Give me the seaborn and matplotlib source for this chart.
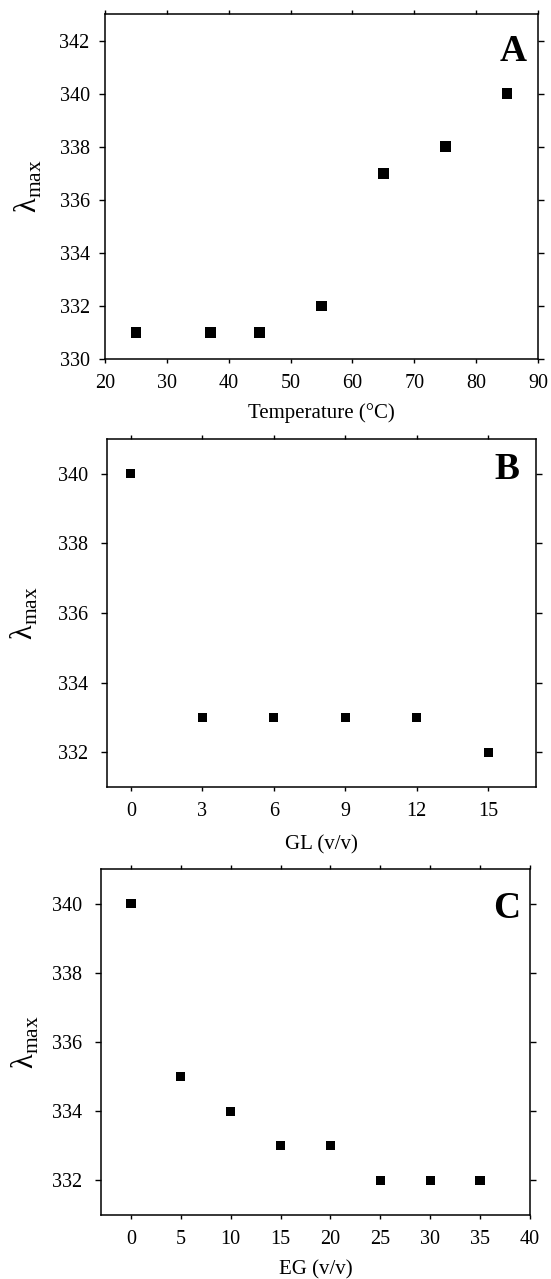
import matplotlib
matplotlib.use("Agg")
import matplotlib.pyplot as plt
import seaborn as sns
import pandas as pd

# Data
temp_c = [25, 37, 45, 55, 65, 75, 85]
lam_temp = [331, 331, 331, 332, 337, 338, 340]
gl_vv = [0, 3, 6, 9, 12, 15]
lam_gl = [340, 333, 333, 333, 333, 332]
eg_vv = [0, 5, 10, 15, 20, 25, 30, 35]
lam_eg = [340, 335, 334, 333, 333, 332, 332, 332]

sns.set_style("ticks")
plt.rcParams['font.family'] = ['Liberation Serif', 'DejaVu Serif']
plt.rcParams['mathtext.fontset'] = 'custom'
plt.rcParams['mathtext.rm'] = 'Liberation Serif'
plt.rcParams['text.color'] = 'black'
plt.rcParams['axes.labelcolor'] = 'black'
plt.rcParams['xtick.color'] = 'black'
plt.rcParams['ytick.color'] = 'black'

W, H = 551, 1279
fig = plt.figure(figsize=(W / 100, H / 100), dpi=100)


def make_axes(l, r, t, b):
    return fig.add_axes([l / W, 1 - b / H, (r - l) / W, (b - t) / H])


panels = [
    dict(box=(105, 538, 14, 359), x=temp_c, y=lam_temp, xlabel="Temperature (°C)",
         xlim=(20, 90), xticks=range(20, 91, 10), ylim=(330, 343), yticks=range(330, 343, 2),
         letter="A", lpos=(0.942, 0.89), s=60, ypad=6.5, ylab_x=28, xlabpad=7),
    dict(box=(107, 536, 439, 787), x=gl_vv, y=lam_gl, xlabel="GL (v/v)",
         xlim=(-1, 17), xticks=range(0, 16, 3), ylim=(331, 341), yticks=range(332, 341, 2),
         letter="B", lpos=(0.932, 0.911), s=45, ypad=9, ylab_x=24, xlabpad=10),
    dict(box=(101, 530, 869, 1215), x=eg_vv, y=lam_eg, xlabel="EG (v/v)",
         xlim=(-3, 40), xticks=range(0, 41, 5), ylim=(331, 341), yticks=range(332, 341, 2),
         letter="C", lpos=(0.946, 0.887), s=45, ypad=9, ylab_x=25, xlabpad=8),
]

for p in panels:
    l, r, t, b = p["box"]
    ax = make_axes(l, r, t, b)
    df = pd.DataFrame({"x": p["x"], "y": p["y"]})
    sns.scatterplot(data=df, x="x", y="y", ax=ax, marker="s", color="black",
                    s=p["s"], linewidth=0, edgecolor="none")
    ax.set_xlim(*p["xlim"])
    ax.set_ylim(*p["ylim"])
    ax.set_xticks(list(p["xticks"]))
    ax.set_yticks(list(p["yticks"]))
    for sp in ax.spines.values():
        sp.set_visible(True)
        sp.set_linewidth(1.1)
        sp.set_color("black")
    ax.tick_params(axis="both", which="major", labelsize=14.5, colors="black",
                   direction="out", width=1.0)
    ax.tick_params(axis="x", length=3, pad=8, top=True)
    ax.tick_params(axis="y", length=4.5, pad=p["ypad"], right=True)
    ax.set_xlabel(p["xlabel"], fontsize=15, labelpad=p["xlabpad"])
    ax.set_ylabel("λ$_{\\mathrm{max}}$", fontsize=22)
    ax.yaxis.label.set_va("center")
    ax.yaxis.set_label_coords((p["ylab_x"] - l) / (r - l), 0.5)
    ax.text(p["lpos"][0], p["lpos"][1], p["letter"], transform=ax.transAxes,
            fontsize=27, fontweight="bold", ha="center", va="center")

fig.savefig("out.png", dpi=100)
